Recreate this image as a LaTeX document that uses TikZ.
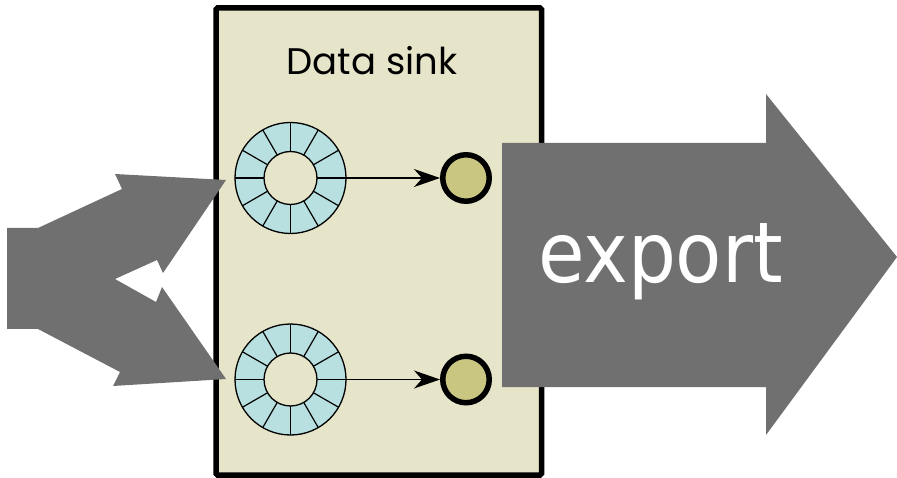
\documentclass[tikz,border=0pt]{standalone}
\usepackage{fontspec}
\setmainfont{Poppins}
\newfontfamily\exportfont{DejaVu Sans Condensed}
\usetikzlibrary{arrows.meta}
\definecolor{sinkbg}{RGB}{230,229,201}
\definecolor{ringfill}{RGB}{184,224,224}
\definecolor{portfill}{RGB}{201,198,130}
\definecolor{flowgrey}{RGB}{112,112,112}

\begin{document}
\begin{tikzpicture}[x=1pt,y=-1pt,
  sinkbox/.style={draw=black, line width=5.5pt, fill=sinkbg, rounded corners=1.5pt,
    inner sep=0pt, outer sep=0pt},
  ringnode/.style={circle, minimum size=111pt, inner sep=0pt, outer sep=0pt},
  port/.style={circle, draw=black, line width=5.5pt, fill=portfill,
    minimum size=46.5pt, inner sep=0pt},
  flow/.style={fill=flowgrey},
  link/.style={line width=1.3pt, -{Stealth[length=26pt,width=18pt,inset=8pt]}},
  ringbuffer/.pic={
    \fill[ringfill] (0,0) circle (55.5);
    \foreach \a in {0,30,...,330} \draw[line width=1.2pt] (\a:26.5) -- (\a:55.5);
    \draw[line width=1.3pt] (0,0) circle (55.5);
    \draw[line width=1.3pt, fill=sinkbg] (0,0) circle (26.5);
  }
]
\useasboundingbox (0,0) rectangle (897,478);

% data sink container
\node[sinkbox, minimum width=325.5pt, minimum height=467pt, anchor=north west]
  (sink) at (216,8) {};
\node[anchor=base, font=\fontsize{37}{42}\selectfont] (sinklabel) at (372,75) {Data sink};

% ring buffers
\pic at (290.5,178) {ringbuffer};
\node[ringnode] (ringA) at (290.5,178) {};
\pic at (290.5,379.5) {ringbuffer};
\node[ringnode] (ringB) at (290.5,379.5) {};

% output ports
\node[port] (portA) at (466,178) {};
\node[port] (portB) at (466,379.5) {};

\draw[link] (ringA.east) -- (portA.west);
\draw[link] (ringB.east) -- (portB.west);

% incoming branched flow
\fill[flow] (7,228) -- (38,228) -- (122,189) -- (115,174) -- (226,180)
  -- (163,273) -- (157,260) -- (115,279) -- (156,302) -- (162,287)
  -- (226,379) -- (113,386) -- (120,372) -- (38,329) -- (7,329) -- cycle;

% export flow
\fill[flow] (502,143) -- (766,143) -- (766,94) -- (897,257) -- (766,435)
  -- (766,387) -- (502,387) -- cycle;
\node[anchor=base west, inner sep=0pt, text=white,
  font=\exportfont\fontsize{84}{90}\selectfont] (exportlabel) at (538,283) {export};
\end{tikzpicture}
\end{document}
